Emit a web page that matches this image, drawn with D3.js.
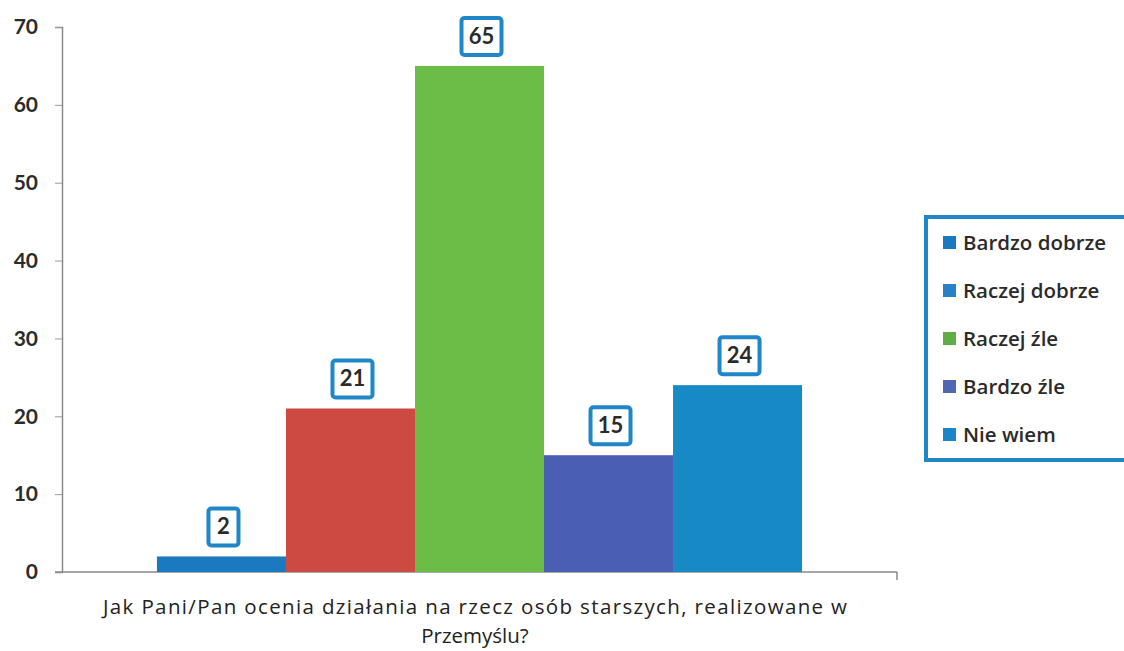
<!DOCTYPE html>
<html>
<head>
<meta charset="utf-8">
<script src="https://cdn.jsdelivr.net/npm/d3@7"></script>
<style>
  html, body { margin: 0; padding: 0; background: #ffffff; }
  svg { display: block; }
  text { font-family: "Open Sans", Lato, sans-serif; fill: #2b2b2b; }
</style>
</head>
<body>
<svg id="chart" width="1124" height="651"></svg>
<script>
// Survey answers and their counts
const categories = ["Bardzo dobrze", "Raczej dobrze", "Raczej źle", "Bardzo źle", "Nie wiem"];
const values = [2, 21, 65, 15, 24];
const barColors = ["#1b79c0", "#cc4a42", "#6cbd48", "#4a5fb3", "#178ac6"];
const legendColors = ["#1b79c0", "#2a80c6", "#5fae45", "#4f66b3", "#1a86c8"];
const yTicks = [0, 10, 20, 30, 40, 50, 60, 70];
const titleLines = ["Jak Pani/Pan ocenia działania na rzecz osób starszych, realizowane w", "Przemyślu?"];

const svg = d3.select("#chart");

const plot = { left: 62, right: 897, top: 27, bottom: 572 };

const y = d3.scaleLinear().domain([0, 70]).range([plot.bottom, plot.top]);
const x = d3.scaleBand()
  .domain(categories)
  .range([plot.left, plot.right])
  .paddingInner(0)
  .paddingOuter(0.736);

// Y axis
const yAxis = d3.axisLeft(y).tickValues(yTicks).tickSize(7).tickPadding(17).tickFormat(d3.format("d"));
const yg = svg.append("g").attr("transform", `translate(${plot.left},0)`).call(yAxis);
yg.select(".domain").attr("stroke", "#8a8a8a").attr("stroke-width", 1.5);
yg.selectAll(".tick line").attr("stroke", "#9a9a9a");
yg.selectAll(".tick text")
  .style("font-family", "Lato, sans-serif")
  .style("font-size", "21px")
  .style("font-weight", "700")
  .attr("fill", "#2b2b2b");

// X axis baseline with end tick
svg.append("line")
  .attr("x1", plot.left - 7).attr("x2", plot.right)
  .attr("y1", y(0)).attr("y2", y(0))
  .attr("stroke", "#8a8a8a").attr("stroke-width", 1.5);
svg.append("line")
  .attr("x1", plot.right).attr("x2", plot.right)
  .attr("y1", y(0)).attr("y2", y(0) + 8)
  .attr("stroke", "#8a8a8a").attr("stroke-width", 1.5);

// Bars
const data = categories.map((c, i) => ({ cat: c, value: values[i], color: barColors[i] }));
svg.append("g").selectAll("rect")
  .data(data)
  .join("rect")
  .attr("x", d => x(d.cat))
  .attr("width", x.bandwidth())
  .attr("y", d => y(d.value))
  .attr("height", d => y(0) - y(d.value))
  .attr("fill", d => d.color);

// Value labels in framed boxes
const labels = svg.append("g").selectAll("g")
  .data(data)
  .join("g")
  .attr("transform", d => `translate(${x(d.cat) + x.bandwidth() / 2 + 2},${y(d.value) - 30})`);
labels.append("rect")
  .attr("x", d => d.value < 10 ? -15 : -20)
  .attr("y", -18)
  .attr("width", d => d.value < 10 ? 30 : 40)
  .attr("height", 37)
  .attr("rx", 3)
  .attr("fill", "#ffffff")
  .attr("stroke", "#1f86c8")
  .attr("stroke-width", 4);
labels.append("text")
  .attr("text-anchor", "middle")
  .attr("dy", "0.36em")
  .style("font-family", "Lato, sans-serif")
  .style("font-size", "22px")
  .style("font-weight", "700")
  .text(d => d.value);

// Legend
const legend = svg.append("g").attr("transform", "translate(924,215)");
legend.append("rect")
  .attr("x", 2).attr("y", 2)
  .attr("width", 220).attr("height", 243)
  .attr("fill", "#ffffff")
  .attr("stroke", "#1f86c8")
  .attr("stroke-width", 4);
const items = legend.selectAll("g.item")
  .data(categories)
  .join("g")
  .attr("class", "item")
  .attr("transform", (d, i) => `translate(19,${28 + i * 48})`);
items.append("rect")
  .attr("x", 0).attr("y", -7)
  .attr("width", 13).attr("height", 13)
  .attr("fill", (d, i) => legendColors[i]);
items.append("text")
  .attr("x", 20)
  .attr("dy", "0.36em")
  .style("font-size", "20.5px")
  .style("font-weight", "600")
  .text(d => d);

// Axis title, two centred lines under the baseline
const title = svg.append("text")
  .attr("text-anchor", "middle")
  .style("font-size", "20.5px")
  .style("fill", "#222");
title.selectAll("tspan")
  .data(titleLines)
  .join("tspan")
  .attr("x", 475)
  .attr("y", (d, i) => 614 + i * 28.5)
  .text(d => d);
title.select("tspan")
  .attr("textLength", 744)
  .attr("lengthAdjust", "spacing");
</script>
</body>
</html>
